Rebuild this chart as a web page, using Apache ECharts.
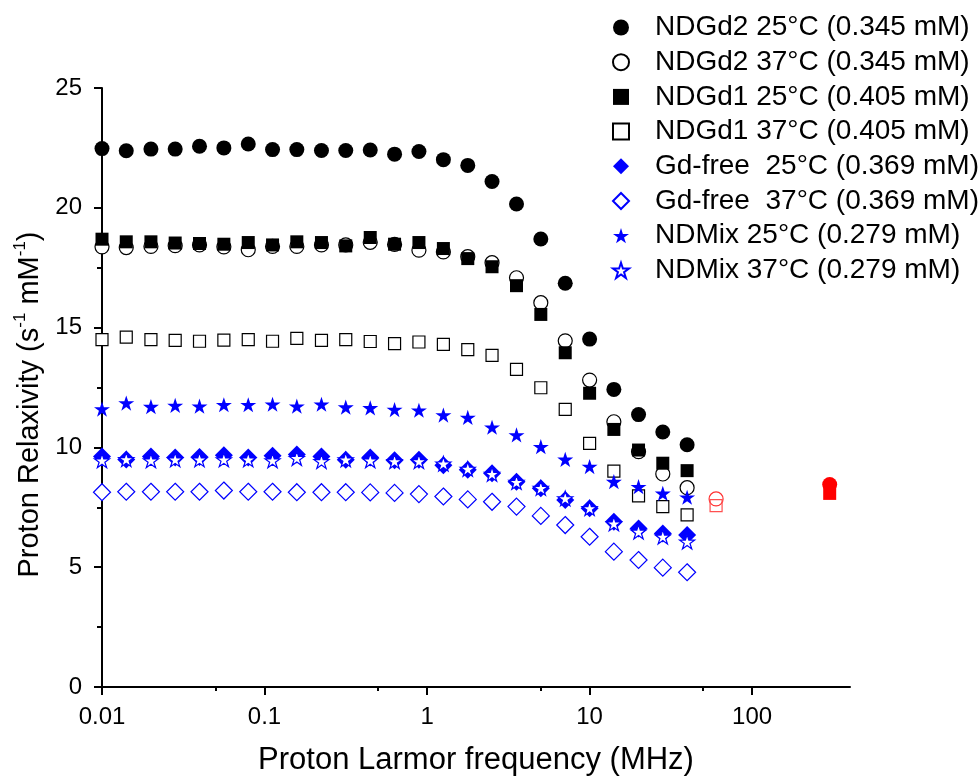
<!DOCTYPE html>
<html><head><meta charset="utf-8">
<script src="https://cdn.jsdelivr.net/npm/echarts@6/dist/echarts.min.js"></script>
<style>html,body{margin:0;padding:0;background:#fff}#c{width:980px;height:782px}</style>
</head><body><div id="c"></div>
<script>
// Larmor frequencies (MHz)
const freq = [0.01, 0.0141, 0.02, 0.0282, 0.0398, 0.0562, 0.0794, 0.112, 0.158, 0.224, 0.316, 0.447, 0.631, 0.891, 1.26, 1.78, 2.51, 3.55, 5.01, 7.08, 10, 14.1, 20, 28.2, 39.8];
const ndgd2_25 = [22.47, 22.38, 22.45, 22.45, 22.57, 22.5, 22.66, 22.43, 22.43, 22.39, 22.39, 22.41, 22.24, 22.35, 22.01, 21.77, 21.1, 20.16, 18.7, 16.85, 14.52, 12.42, 11.37, 10.64, 10.11];
const ndgd2_37 = [18.37, 18.34, 18.39, 18.42, 18.45, 18.37, 18.25, 18.39, 18.39, 18.45, 18.45, 18.56, 18.47, 18.23, 18.16, 17.96, 17.71, 17.08, 16.04, 14.45, 12.81, 11.07, 9.82, 8.89, 8.32];
const ndgd1_25 = [18.69, 18.58, 18.58, 18.53, 18.51, 18.48, 18.55, 18.45, 18.58, 18.55, 18.41, 18.76, 18.48, 18.55, 18.3, 17.88, 17.54, 16.75, 15.55, 13.95, 12.26, 10.75, 9.89, 9.34, 9.03];
const ndgd1_37 = [14.5, 14.6, 14.5, 14.47, 14.43, 14.48, 14.5, 14.43, 14.55, 14.47, 14.5, 14.42, 14.33, 14.4, 14.3, 14.08, 13.84, 13.26, 12.49, 11.59, 10.17, 9.01, 7.98, 7.53, 7.18];
const gdfree_25 = [9.62, 9.5, 9.62, 9.58, 9.6, 9.67, 9.58, 9.65, 9.7, 9.62, 9.48, 9.58, 9.46, 9.48, 9.25, 9.07, 8.92, 8.57, 8.29, 7.8, 7.46, 6.9, 6.62, 6.41, 6.34];
const gdfree_37 = [8.13, 8.15, 8.15, 8.15, 8.15, 8.2, 8.15, 8.15, 8.13, 8.13, 8.13, 8.12, 8.1, 8.05, 7.95, 7.83, 7.73, 7.53, 7.14, 6.76, 6.27, 5.65, 5.3, 4.98, 4.79];
const ndmix_25 = [11.6, 11.85, 11.7, 11.75, 11.72, 11.78, 11.78, 11.8, 11.72, 11.8, 11.68, 11.65, 11.58, 11.55, 11.35, 11.25, 10.84, 10.52, 10.03, 9.5, 9.2, 8.57, 8.36, 8.08, 7.92];
const ndmix_37 = [9.45, 9.5, 9.45, 9.49, 9.49, 9.49, 9.49, 9.45, 9.55, 9.42, 9.49, 9.45, 9.42, 9.42, 9.32, 9.1, 8.89, 8.55, 8.3, 7.87, 7.46, 6.82, 6.48, 6.27, 6.06];
// high-field (red) points
const hfFreq60 = [60];
const hfFreq300 = [300];
const hf60_circle = [7.85];
const hf60_square = [7.57];
const hf300_circle = [8.45];
const hf300_square = [8.08];
// axis ticks
const xMajorTicks = [0.01, 0.1, 1, 10, 100];
const xMinorTicks = [0.05, 0.5, 5, 50];
const seriesNames = ['NDGd2 25°C (0.345 mM)', 'NDGd2 37°C (0.345 mM)', 'NDGd1 25°C (0.405 mM)', 'NDGd1 37°C (0.405 mM)', 'Gd-free  25°C (0.369 mM)', 'Gd-free  37°C (0.369 mM)', 'NDMix 25°C (0.279 mM)', 'NDMix 37°C (0.279 mM)'];

const FONT = '"Liberation Sans", Arial, sans-serif';
const STAR = 'path://M50 0 L61.23 34.55 L97.55 34.55 L68.17 55.9 L79.39 90.45 L50 69.1 L20.61 90.45 L31.83 55.9 L2.45 34.55 L38.77 34.55 Z';
const pairs = (xs, ys) => xs.map((x, i) => [x, ys[i]]);

function sc(name, ys, symbol, size, fill, stroke, bw, xs) {
  return {
    type: 'scatter', name: name, xAxisIndex: 0, yAxisIndex: 0,
    data: pairs(xs || freq, ys), symbol: symbol, symbolSize: size,
    itemStyle: { color: fill, borderColor: stroke, borderWidth: bw, opacity: 1 },
    emphasis: { disabled: true }, silent: true
  };
}

const chart = echarts.init(document.getElementById('c'), null, { renderer: 'canvas' });
const grid = { left: 102, right: 130, top: 88, bottom: 95 };
chart.setOption({
  animation: false,
  backgroundColor: '#fff',
  grid: [Object.assign({}, grid), Object.assign({}, grid)],
  legend: {
    data: seriesNames, orient: 'vertical', left: 607, top: 7,
    itemWidth: 16, itemHeight: 16, itemGap: 3.7,
    selectedMode: false,
    textStyle: { fontFamily: FONT, fontSize: 28, color: '#000', lineHeight: 31, padding: [0, 0, 0, 21] }
  },
  xAxis: [{
    type: 'log', gridIndex: 0, min: 0.01, max: 400, logBase: 10,
    name: 'Proton Larmor frequency (MHz)', nameLocation: 'middle', nameGap: 58,
    nameTextStyle: { fontFamily: FONT, fontSize: 31, color: '#000' },
    axisLine: { show: true, onZero: false, lineStyle: { color: '#000', width: 2 } },
    axisTick: { show: true, inside: false, length: 8, customValues: xMajorTicks, lineStyle: { color: '#000', width: 2 } },
    axisLabel: { show: true, customValues: xMajorTicks, margin: 18, fontFamily: FONT, fontSize: 24, color: '#000',
      formatter: v => String(v) },
    splitLine: { show: false }, minorTick: { show: false }
  }, {
    type: 'log', gridIndex: 1, min: 0.01, max: 400, logBase: 10, position: 'bottom',
    axisLine: { show: false },
    axisTick: { show: true, inside: false, length: 4, customValues: xMinorTicks, lineStyle: { color: '#000', width: 2 } },
    axisLabel: { show: false }, splitLine: { show: false }
  }],
  yAxis: [{
    type: 'value', gridIndex: 0, min: 0, max: 25, interval: 5,
    name: '{a|Proton Relaxivity (s}{b|-1}{a| mM}{b|-1}{a|)}', nameLocation: 'middle', nameGap: 44, nameRotate: 90,
    nameTextStyle: { padding: [0, 34, 0, 0], rich: {
      a: { fontFamily: FONT, fontSize: 29, color: '#000', lineHeight: 33, verticalAlign: 'bottom' },
      b: { fontFamily: FONT, fontSize: 17, color: '#000', lineHeight: 33, verticalAlign: 'top', padding: [0, 0, 8, 0] }
    } },
    axisLine: { show: true, lineStyle: { color: '#000', width: 2 } },
    axisTick: { show: true, inside: false, length: 8, lineStyle: { color: '#000', width: 2 } },
    minorTick: { show: true, splitNumber: 2, length: 5, lineStyle: { color: '#000', width: 2 } },
    axisLabel: { margin: 20, fontFamily: FONT, fontSize: 24, color: '#000' },
    splitLine: { show: false }, minorSplitLine: { show: false }
  }, {
    type: 'value', gridIndex: 1, min: 0, max: 25, show: false
  }],
  series: [
    sc(seriesNames[0], ndgd2_25, 'circle', 15, '#000', '#000', 0),
    sc(seriesNames[1], ndgd2_37, 'circle', 14, '#fff', '#000', 1.2),
    sc(seriesNames[2], ndgd1_25, 'rect', 13, '#000', '#000', 0),
    sc(seriesNames[3], ndgd1_37, 'rect', 12, '#fff', '#000', 1.2),
    sc(seriesNames[4], gdfree_25, 'diamond', 18, '#0000ff', '#0000ff', 0),
    sc(seriesNames[5], gdfree_37, 'diamond', 17, '#fff', '#0000ff', 1.2),
    sc(seriesNames[6], ndmix_25, STAR, [16, 15.2], '#0000ff', '#0000ff', 0),
    sc(seriesNames[7], ndmix_37, STAR, [15, 14.3], '#fff', '#0000ff', 1.2),
    sc('hf1', hf60_circle, 'circle', 14, '#fff', '#ff3030', 1.2, hfFreq60),
    sc('hf2', hf60_square, 'rect', 12, 'rgba(255,255,255,0)', '#ff5050', 1.2, hfFreq60),
    sc('hf3', hf300_circle, 'circle', 15, '#ff0000', '#ff0000', 0, hfFreq300),
    sc('hf4', hf300_square, 'rect', 13, '#ff0000', '#ff0000', 0, hfFreq300)
  ]
});
</script></body></html>
